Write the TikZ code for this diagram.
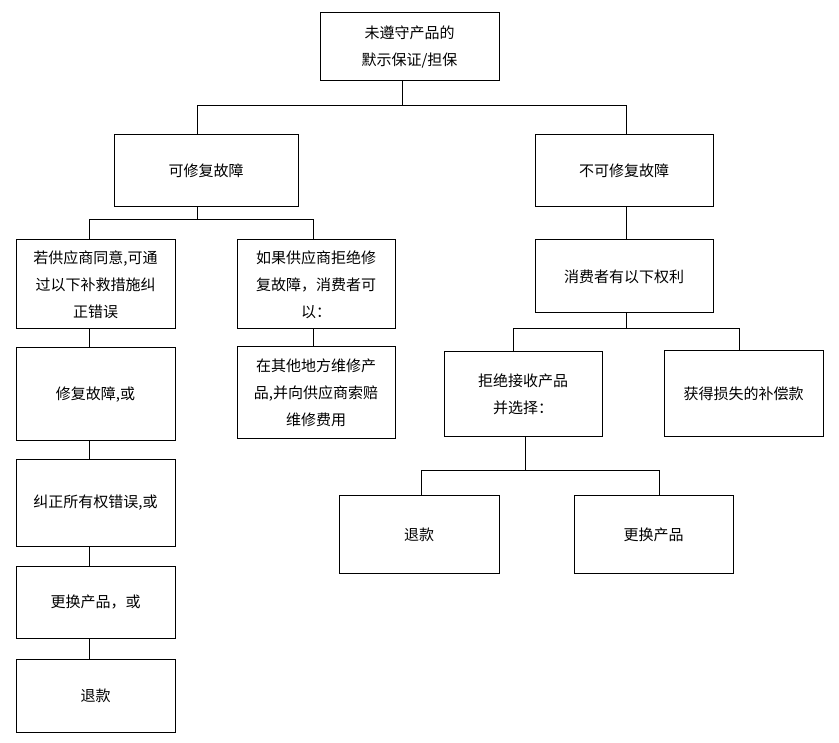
\documentclass[tikz,border=0pt]{standalone}
\usepackage{fontspec}
\newfontfamily\cjkfont{Noto Sans CJK SC}
\tikzset{
  box/.style={draw, line width=1pt, inner sep=0pt, align=center,
    font=\cjkfont\fontsize{15}{27}\selectfont},
  dims/.style 2 args={minimum width=#1pt, minimum height=#2pt},
  link/.style={line width=1pt}
}
\begin{document}
\begin{tikzpicture}[x=1pt,y=-1pt]
  \useasboundingbox (0,0) rectangle (839,743);
  \node[box,dims={179}{68}] (root) at (409.5,47) {未遵守产品的\\默示保证/担保};
  \node[box,dims={184}{72}] (rep) at (206,171) {可修复故障};
  \node[box,dims={178}{72}] (norep) at (624,171) {不可修复故障};
  \node[box,dims={159}{89}] (agree) at (95.5,284.5) {若供应商同意,可通\\过以下补救措施纠\\正错误};
  \node[box,dims={158}{89}] (refuse) at (316,284.5) {如果供应商拒绝修\\复故障，消费者可\\以：};
  \node[box,dims={178}{73}] (rights) at (624,276.5) {消费者有以下权利};
  \node[box,dims={159}{93}] (fix) at (95.5,394.5) {修复故障,或};
  \node[box,dims={159}{86}] (title) at (95.5,503) {纠正所有权错误,或};
  \node[box,dims={159}{72}] (swap) at (95.5,602) {更换产品，或};
  \node[box,dims={159}{73}] (refund) at (95.5,695.5) {退款};
  \node[box,dims={158}{92}] (elsewhere) at (316,393) {在其他地方维修产\\品,并向供应商索赔\\维修费用};
  \node[box,dims={158}{85}] (reject) at (523,394.5) {拒绝接收产品\\并选择：};
  \node[box,dims={159}{86}] (damages) at (743.5,394) {获得损失的补偿款};
  \node[box,dims={160}{77}] (refundb) at (419,534.5) {退款};
  \node[box,dims={159}{77}] (swapb) at (653.5,534.5) {更换产品};

  \coordinate (b1) at (402,106);
  \coordinate (b1l) at (197,106);
  \coordinate (b1r) at (626,106);
  \coordinate (b2) at (197,220);
  \coordinate (b2l) at (89,220);
  \coordinate (b2r) at (313,220);
  \coordinate (b3) at (626,329);
  \coordinate (b3l) at (513,329);
  \coordinate (b3r) at (739,329);
  \coordinate (b4) at (525,471);
  \coordinate (b4l) at (421,471);
  \coordinate (b4r) at (659,471);

  \draw[link] (root.south -| b1) -- (b1);
  \draw[link] (b1l |- rep.north) -- (b1l) -- (b1r) -- (b1r |- norep.north);
  \draw[link] (rep.south -| b2) -- (b2);
  \draw[link] (b2l |- agree.north) -- (b2l) -- (b2r) -- (b2r |- refuse.north);
  \foreach \a/\b in {agree/fix, fix/title, title/swap, swap/refund}
    \draw[link] (\a.south -| b2l) -- (\b.north -| b2l);
  \draw[link] (refuse.south -| b2r) -- (elsewhere.north -| b2r);
  \draw[link] (norep.south -| b1r) -- (rights.north -| b1r);
  \draw[link] (rights.south -| b3) -- (b3);
  \draw[link] (b3l |- reject.north) -- (b3l) -- (b3r) -- (b3r |- damages.north);
  \draw[link] (reject.south -| b4) -- (b4);
  \draw[link] (b4l |- refundb.north) -- (b4l) -- (b4r) -- (b4r |- swapb.north);
\end{tikzpicture}
\end{document}
